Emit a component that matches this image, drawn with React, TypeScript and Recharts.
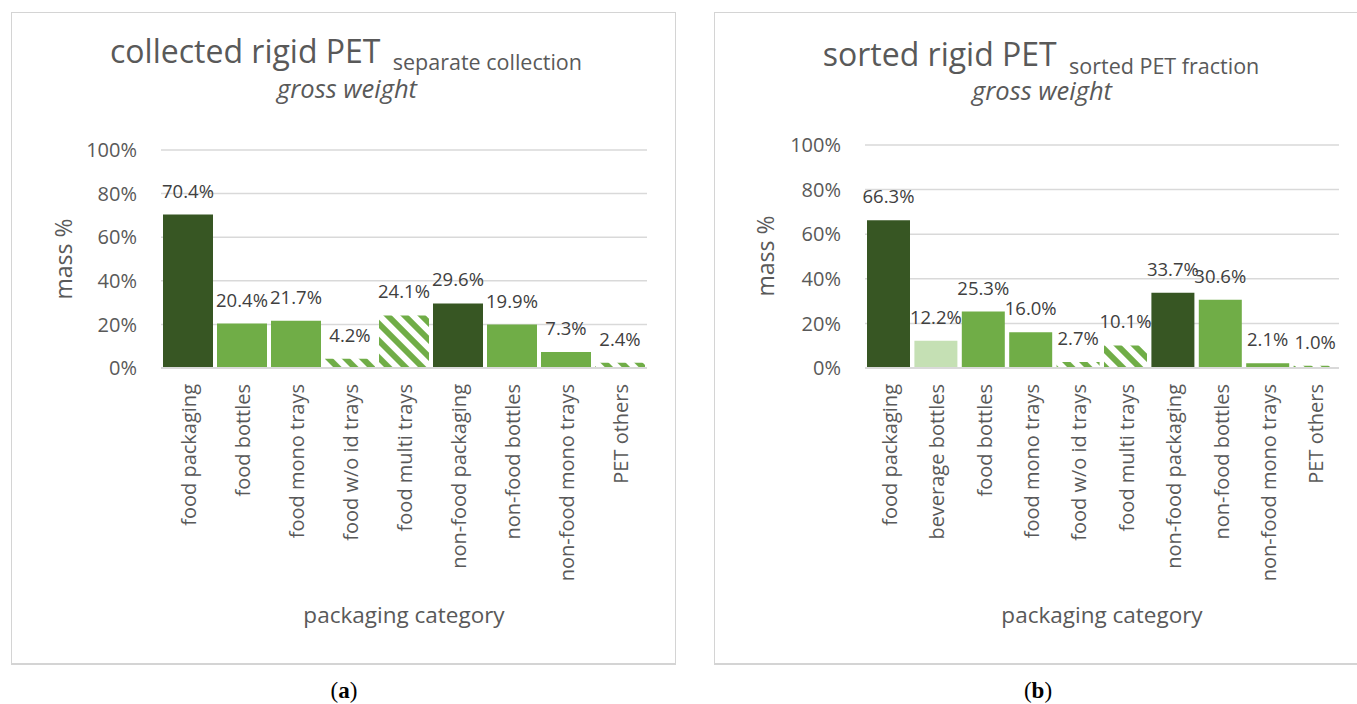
import React from 'react';
import { BarChart, Bar, XAxis, YAxis, CartesianGrid, Cell, LabelList } from 'recharts';

const categoriesA = [
  'food packaging', 'food bottles', 'food mono trays', 'food w/o id trays', 'food multi trays',
  'non-food packaging', 'non-food bottles', 'non-food mono trays', 'PET others',
];
const valuesA = [70.4, 20.4, 21.7, 4.2, 24.1, 29.6, 19.9, 7.3, 2.4];
const kindsA = ['dark', 'mid', 'mid', 'hatch', 'hatch', 'dark', 'mid', 'mid', 'hatch'];

const categoriesB = [
  'food packaging', 'beverage bottles', 'food bottles', 'food mono trays', 'food w/o id trays',
  'food multi trays', 'non-food packaging', 'non-food bottles', 'non-food mono trays', 'PET others',
];
const valuesB = [66.3, 12.2, 25.3, 16.0, 2.7, 10.1, 33.7, 30.6, 2.1, 1.0];
const kindsB = ['dark', 'light', 'mid', 'mid', 'hatch', 'hatch', 'dark', 'mid', 'mid', 'hatch'];

const yTicks = [0, 20, 40, 60, 80, 100];

const FONT = "'Open Sans', sans-serif";
const TEXT = '#595959';
const LABEL = '#404040';
const GRID = '#d9d9d9';
const COLORS: Record<string, string> = { dark: '#375623', mid: '#70AD47', light: '#C5E0B4' };

const XTick = (props: any) => {
  const { x, y, payload } = props;
  return (
    <text
      transform={`translate(${x},${y}) rotate(-90)`}
      textAnchor="end"
      dy="0.4em"
      fontSize={20}
      fill={TEXT}
      fontFamily={FONT}
    >
      {payload.value}
    </text>
  );
};

type PanelProps = {
  categories: string[];
  values: number[];
  kinds: string[];
  patternId: string;
  left: number;
  width: number;
  yAxisWidth: number;
  marginRight: number;
  marginTop: number;
};

const ChartPanel = ({ categories, values, kinds, patternId, left, width, yAxisWidth, marginRight, marginTop }: PanelProps) => {
  const data = categories.map((c, i) => ({ name: c, value: values[i] }));
  return (
    <div style={{ position: 'absolute', left, top: 0 }}>
      <BarChart
        width={width}
        height={660}
        data={data}
        margin={{ top: marginTop, right: marginRight, bottom: 0, left: 0 }}
        barCategoryGap={2}
        style={{ fontFamily: FONT }}
      >
        <defs>
          <pattern id={patternId} patternUnits="userSpaceOnUse" width="12" height="12" patternTransform="rotate(-45)">
            <rect width="12" height="12" fill="#ffffff" />
            <rect width="6" height="12" fill="#70AD47" />
          </pattern>
        </defs>
        <CartesianGrid vertical={false} stroke={GRID} strokeWidth={1.5} />
        <XAxis
          dataKey="name"
          interval={0}
          height={292}
          tickLine={false}
          tickSize={0}
          tickMargin={16}
          axisLine={{ stroke: GRID, strokeWidth: 2 }}
          tick={<XTick />}
        />
        <YAxis
          domain={[0, 100]}
          ticks={yTicks}
          width={yAxisWidth}
          axisLine={false}
          tickLine={false}
          tickSize={0}
          tickMargin={24}
          tickFormatter={(v: number) => `${v}%`}
          tick={{ fontSize: 20, fill: TEXT, fontFamily: FONT }}
        />
        <Bar dataKey="value" isAnimationActive={false}>
          {data.map((d, i) => (
            <Cell key={d.name} fill={kinds[i] === 'hatch' ? `url(#${patternId})` : COLORS[kinds[i]]} />
          ))}
          <LabelList
            dataKey="value"
            position="top"
            offset={17}
            formatter={(v: any) => `${Number(v).toFixed(1)}%`}
            fill={LABEL}
            fontSize={18.5}
            fontFamily={FONT}
          />
        </Bar>
      </BarChart>
    </div>
  );
};

export default function App() {
  return (
    <div style={{ position: 'absolute', left: 0, top: 0, width: 1357, height: 704, background: '#ffffff', overflow: 'hidden' }}>
      <div style={{ position: 'absolute', left: 11, top: 12, width: 663, height: 650, border: '1px solid #d4d4d4', borderBottomWidth: 2, background: '#fff' }} />
      <div style={{ position: 'absolute', left: 714, top: 12, width: 660, height: 650, border: '1px solid #d4d4d4', borderBottomWidth: 2, background: '#fff' }} />

      <ChartPanel
        categories={categoriesA}
        values={valuesA}
        kinds={kindsA}
        patternId="hatchA"
        left={0}
        width={680}
        yAxisWidth={161}
        marginRight={33}
        marginTop={150}
      />
      <ChartPanel
        categories={categoriesB}
        values={valuesB}
        kinds={kindsB}
        patternId="hatchB"
        left={700}
        width={657}
        yAxisWidth={165}
        marginRight={18}
        marginTop={145}
      />

      <svg width={1357} height={704} style={{ position: 'absolute', left: 0, top: 0, pointerEvents: 'none' }}>
        <text x={346} y={63} textAnchor="middle" fill={TEXT} fontFamily={FONT}>
          <tspan fontSize={32}>collected rigid PET </tspan>
          <tspan fontSize={21.5} dy={7} dx={4}>separate collection</tspan>
        </text>
        <text x={347} y={98} textAnchor="middle" fill={TEXT} fontFamily={FONT} fontStyle="italic" fontSize={25.5}>
          gross weight
        </text>
        <text x={1041} y={66} textAnchor="middle" fill={TEXT} fontFamily={FONT}>
          <tspan fontSize={32}>sorted rigid PET </tspan>
          <tspan fontSize={21.5} dy={8} dx={4}>sorted PET fraction</tspan>
        </text>
        <text x={1042} y={100} textAnchor="middle" fill={TEXT} fontFamily={FONT} fontStyle="italic" fontSize={25.5}>
          gross weight
        </text>

        <text transform="translate(72,259) rotate(-90)" textAnchor="middle" fill={TEXT} fontFamily={FONT} fontSize={23}>
          mass %
        </text>
        <text transform="translate(774,256) rotate(-90)" textAnchor="middle" fill={TEXT} fontFamily={FONT} fontSize={23}>
          mass %
        </text>

        <text x={404} y={623} textAnchor="middle" fill={TEXT} fontFamily={FONT} fontSize={22.5}>
          packaging category
        </text>
        <text x={1102} y={623} textAnchor="middle" fill={TEXT} fontFamily={FONT} fontSize={22.5}>
          packaging category
        </text>

        <text x={344} y={698} textAnchor="middle" fill="#000" fontFamily="'Liberation Serif', serif" fontSize={23}>
          (<tspan fontWeight="bold">a</tspan>)
        </text>
        <text x={1038} y={698} textAnchor="middle" fill="#000" fontFamily="'Liberation Serif', serif" fontSize={23}>
          (<tspan fontWeight="bold">b</tspan>)
        </text>
      </svg>
    </div>
  );
}
